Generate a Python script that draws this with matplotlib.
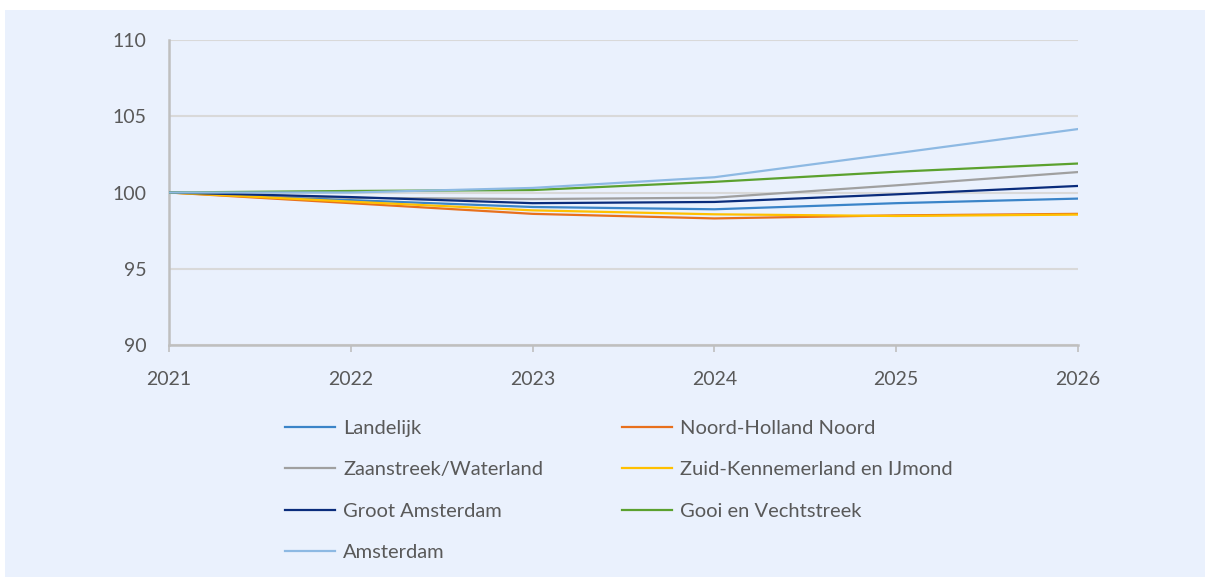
import matplotlib
matplotlib.use("Agg")
import matplotlib.pyplot as plt
from matplotlib.patches import Rectangle

# jaren en indexwaarden (2021 = 100)
jaren = [2021, 2022, 2023, 2024, 2025, 2026]

landelijk = [100, 99.5, 99.05, 98.9, 99.3, 99.6]
noord_holland_noord = [100, 99.3, 98.6, 98.3, 98.5, 98.6]
zaanstreek_waterland = [100, 99.65, 99.57, 99.66, 100.47, 101.34]
zuid_kennemerland = [100, 99.4, 98.83, 98.57, 98.46, 98.55]
groot_amsterdam = [100, 99.7, 99.3, 99.38, 99.88, 100.43]
gooi_vechtstreek = [100, 100.1, 100.16, 100.7, 101.36, 101.9]
amsterdam = [100, 100.0, 100.3, 101.0, 102.57, 104.16]

reeksen = [
    ("Landelijk", landelijk, "#3B84C8"),
    ("Noord-Holland Noord", noord_holland_noord, "#E8701C"),
    ("Zaanstreek/Waterland", zaanstreek_waterland, "#A0A0A0"),
    ("Zuid-Kennemerland en IJmond", zuid_kennemerland, "#FFC000"),
    ("Groot Amsterdam", groot_amsterdam, "#0A2C7C"),
    ("Gooi en Vechtstreek", gooi_vechtstreek, "#5BA12E"),
    ("Amsterdam", amsterdam, "#8DB9E3"),
]

plt.rcParams['font.family'] = ['Lato', 'DejaVu Sans']
tekstkleur = "#595959"

fig = plt.figure(figsize=(12.1, 5.77), dpi=100)
fig.patch.set_facecolor("white")
# lichtblauw paneel
fig.patches.append(Rectangle((5 / 1210, 0), 1200 / 1210, 567 / 577,
                             transform=fig.transFigure, facecolor="#EAF1FD",
                             edgecolor="none", zorder=-10))

ax = fig.add_axes([169 / 1210, 1 - 345 / 577, (1078 - 169) / 1210, (345 - 40) / 577])
ax.set_facecolor("none")

lijnen = {}
for naam, waarden, kleur in reeksen:
    lijn, = ax.plot(jaren, waarden, color=kleur, linewidth=1.6, label=naam, zorder=3)
    lijnen[naam] = lijn

ax.set_xlim(2021, 2026)
ax.set_ylim(90, 110)
ax.set_yticks([90, 95, 100, 105, 110])
ax.set_xticks(jaren)
ax.yaxis.grid(True, color="#D9D9D9", linewidth=1.5, zorder=1)
ax.set_axisbelow(True)

for kant in ["top", "right"]:
    ax.spines[kant].set_visible(False)
for kant in ["left", "bottom"]:
    ax.spines[kant].set_color("#BFBFBF")
    ax.spines[kant].set_linewidth(1.8)

ax.tick_params(axis="y", length=0, pad=16, labelsize=14, labelcolor=tekstkleur)
ax.tick_params(axis="x", length=5, width=1.2, color="#BFBFBF", pad=14,
               labelsize=14, labelcolor=tekstkleur)

# legenda in twee kolommen
kolom1 = ["Landelijk", "Zaanstreek/Waterland", "Groot Amsterdam", "Amsterdam"]
kolom2 = ["Noord-Holland Noord", "Zuid-Kennemerland en IJmond", "Gooi en Vechtstreek"]
for kolom, x0 in [(kolom1, 285), (kolom2, 622)]:
    leg = fig.legend([lijnen[n] for n in kolom], kolom, loc="upper left",
                     bbox_to_anchor=(x0 / 1210, 1 - 420 / 577),
                     bbox_transform=fig.transFigure, frameon=False,
                     fontsize=14.5, handlelength=2.5, handletextpad=0.4,
                     labelspacing=1.2, borderpad=0, borderaxespad=0)
    for t in leg.get_texts():
        t.set_color(tekstkleur)

fig.savefig("out.png", dpi=100, facecolor=fig.get_facecolor())
